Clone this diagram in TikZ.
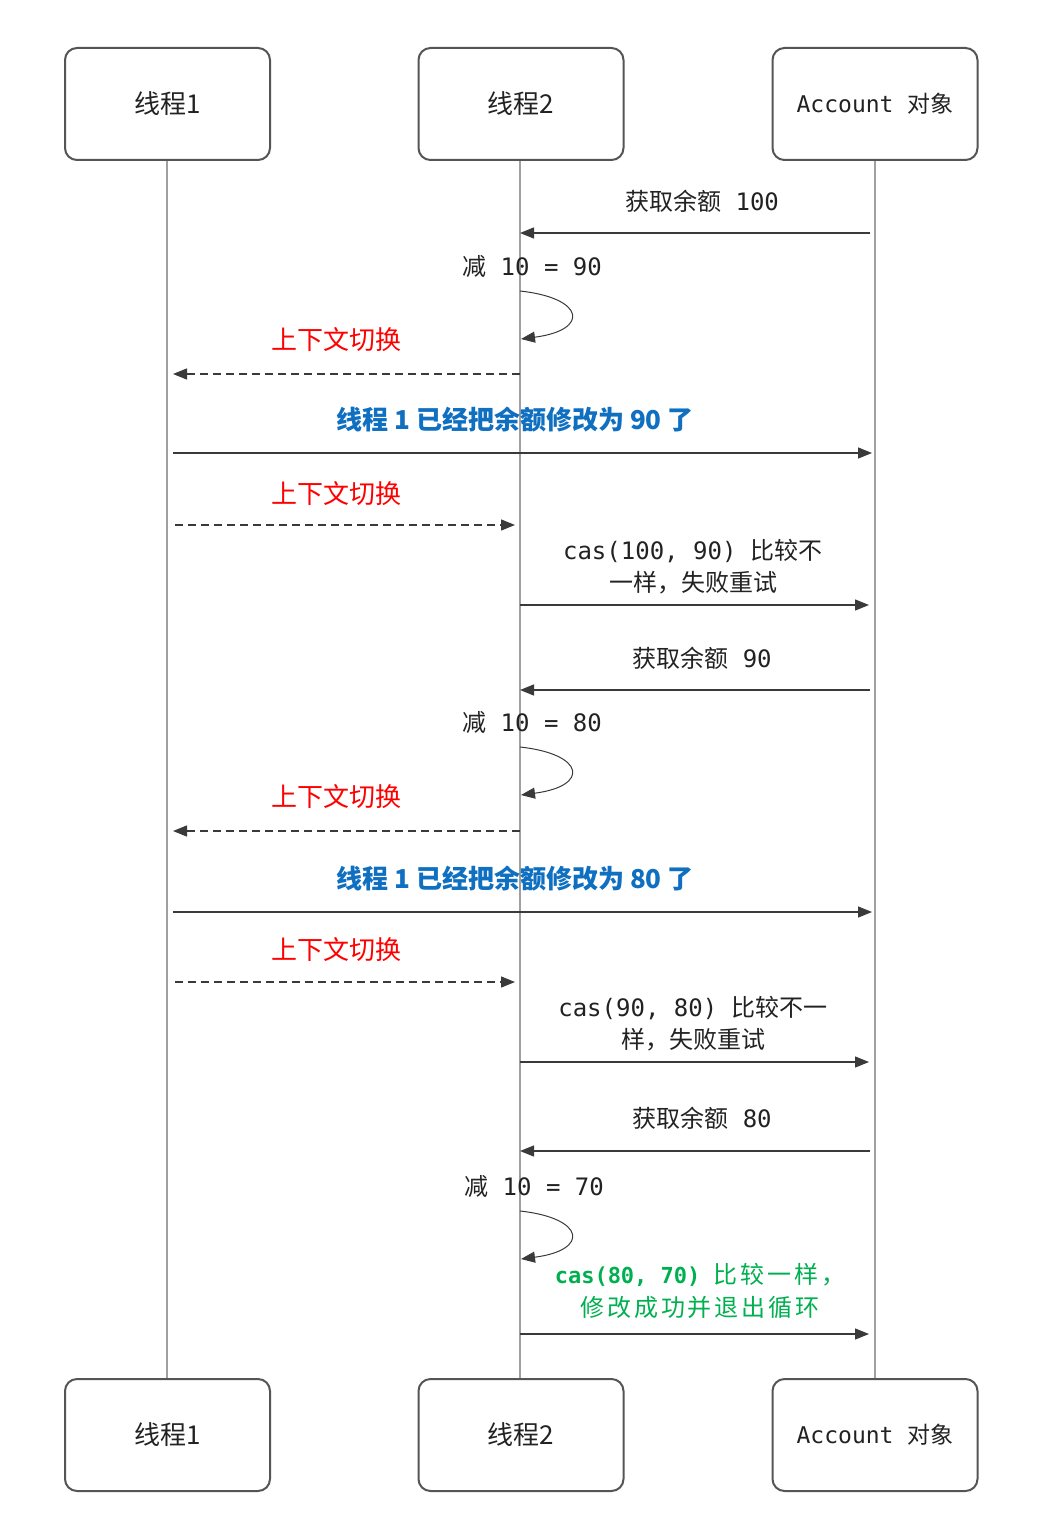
\documentclass[tikz,border=0pt]{standalone}
\usepackage{fontspec}
\setmainfont{Noto Sans CJK SC}
\newfontfamily\cjk{Noto Sans CJK SC}
\newfontfamily\mono{DejaVu Sans Mono}
\usetikzlibrary{arrows.meta}
\definecolor{boxc}{HTML}{555555}
\definecolor{lifec}{HTML}{A0A0A0}
\definecolor{msgc}{HTML}{3A3A3A}
\definecolor{txtc}{HTML}{222222}
\definecolor{redc}{HTML}{FF0000}
\definecolor{bluec}{HTML}{0F6FC0}
\definecolor{greenc}{HTML}{00B050}
\tikzset{
  actor/.style={draw=boxc, line width=2, rounded corners=12, minimum width=205,
    minimum height=112, fill=white, text=txtc, inner sep=0pt},
  life/.style={draw=lifec, line width=2},
  msg/.style={draw=msgc, line width=1.3, -{Triangle[length=14,width=11]}},
  dmsg/.style={msg, dash pattern=on 8pt off 5pt},
  lbl/.style={text=txtc, font=\fontsize{24}{32}\selectfont, inner sep=0pt, align=center},
  redl/.style={text=redc, font=\fontsize{26}{30}\selectfont, inner sep=0pt},
  bluel/.style={text=bluec, font=\fontsize{26}{30}\selectfont\bfseries, inner sep=0pt},
  greenl/.style={text=greenc, font=\fontsize{24}{33}\selectfont, inner sep=0pt, align=center},
}
\begin{document}
\begin{tikzpicture}[x=1pt,y=-1pt]
\useasboundingbox[fill=white] (0,0) rectangle (1060,1530);
% lifelines
\draw[life] (167,160) coordinate (l1t) -- (167,1379) coordinate (l1b);
\draw[life] (520,160) coordinate (l2t) -- (520,1379) coordinate (l2b);
\draw[life] (875,160) coordinate (l3t) -- (875,1379) coordinate (l3b);
% actors
\node[actor, font=\fontsize{26}{30}\selectfont] (t1) at (167.5,104) {线程1};
\node[actor, font=\fontsize{26}{30}\selectfont] (t2) at (521,104) {线程2};
\node[actor, font=\fontsize{23}{30}\selectfont] (acc) at (875,104) {{\mono Account\ }对象};
\node[actor, font=\fontsize{26}{30}\selectfont] (t1b) at (167.5,1435) {线程1};
\node[actor, font=\fontsize{26}{30}\selectfont] (t2b) at (521,1435) {线程2};
\node[actor, font=\fontsize{23}{30}\selectfont] (accb) at (875,1435) {{\mono Account\ }对象};

% 1
\node[lbl] (x1) at (702,201) {获取余额{\mono\ 100}};
\coordinate (a1s) at (870,233); \coordinate (a1e) at (520,233);
\draw[msg] (a1s) -- (a1e);
% 2
\node[lbl] (x2) at (532,266) {减{\mono\ 10 = 90}};
\coordinate (s1s) at (520,291); \coordinate (s1e) at (521,339);
\draw[msg, line width=1] (s1s) .. controls (585,298) and (590,330) .. (s1e);
% 3
\node[redl] (x3) at (336,340) {上下文切换};
\coordinate (a3s) at (520,374); \coordinate (a3e) at (173,374);
\draw[dmsg] (a3s) -- (a3e);
% 4
\node[bluel] (x4) at (515,420) {线程 1 已经把余额修改为 90 了};
\coordinate (a4s) at (173,453); \coordinate (a4e) at (872,453);
\draw[msg] (a4s) -- (a4e);
% 5
\node[redl] (x5) at (336,494) {上下文切换};
\coordinate (a5s) at (175,525); \coordinate (a5e) at (515,525);
\draw[dmsg] (a5s) -- (a5e);
% 6
\node[lbl] (x6) at (693,567) {{\mono cas(100, 90)\ }比较不\\一样，失败重试};
\coordinate (a6s) at (520,605); \coordinate (a6e) at (869,605);
\draw[msg] (a6s) -- (a6e);
% 7
\node[lbl] (x7) at (702,658) {获取余额{\mono\ 90}};
\coordinate (a7s) at (870,690); \coordinate (a7e) at (520,690);
\draw[msg] (a7s) -- (a7e);
% 8
\node[lbl] (x8) at (532,722) {减{\mono\ 10 = 80}};
\coordinate (s2s) at (520,747); \coordinate (s2e) at (521,795);
\draw[msg, line width=1] (s2s) .. controls (585,754) and (590,786) .. (s2e);
% 9
\node[redl] (x9) at (336,797) {上下文切换};
\coordinate (a9s) at (520,831); \coordinate (a9e) at (173,831);
\draw[dmsg] (a9s) -- (a9e);
% 10
\node[bluel] (x10) at (515,879) {线程 1 已经把余额修改为 80 了};
\coordinate (a10s) at (173,912); \coordinate (a10e) at (872,912);
\draw[msg] (a10s) -- (a10e);
% 11
\node[redl] (x11) at (336,950) {上下文切换};
\coordinate (a11s) at (175,982); \coordinate (a11e) at (515,982);
\draw[dmsg] (a11s) -- (a11e);
% 12
\node[lbl] (x12) at (693,1024) {{\mono cas(90, 80)\ }比较不一\\样，失败重试};
\coordinate (a12s) at (520,1062); \coordinate (a12e) at (869,1062);
\draw[msg] (a12s) -- (a12e);
% 13
\node[lbl] (x13) at (702,1118) {获取余额{\mono\ 80}};
\coordinate (a13s) at (870,1151); \coordinate (a13e) at (520,1151);
\draw[msg] (a13s) -- (a13e);
% 14
\node[lbl] (x14) at (534,1186) {减{\mono\ 10 = 70}};
\coordinate (s3s) at (520,1211); \coordinate (s3e) at (521,1259);
\draw[msg, line width=1] (s3s) .. controls (585,1218) and (590,1250) .. (s3e);
% 15
\node[greenl] (x15) at (700,1291) {{\mono\bfseries\fontsize{22}{33}\selectfont cas(80, 70)\ }{\addfontfeatures{LetterSpace=12}比较一样，}\\{\addfontfeatures{LetterSpace=12}修改成功并退出循环}};
\coordinate (a15s) at (520,1334); \coordinate (a15e) at (869,1334);
\draw[msg] (a15s) -- (a15e);
\end{tikzpicture}
\end{document}
